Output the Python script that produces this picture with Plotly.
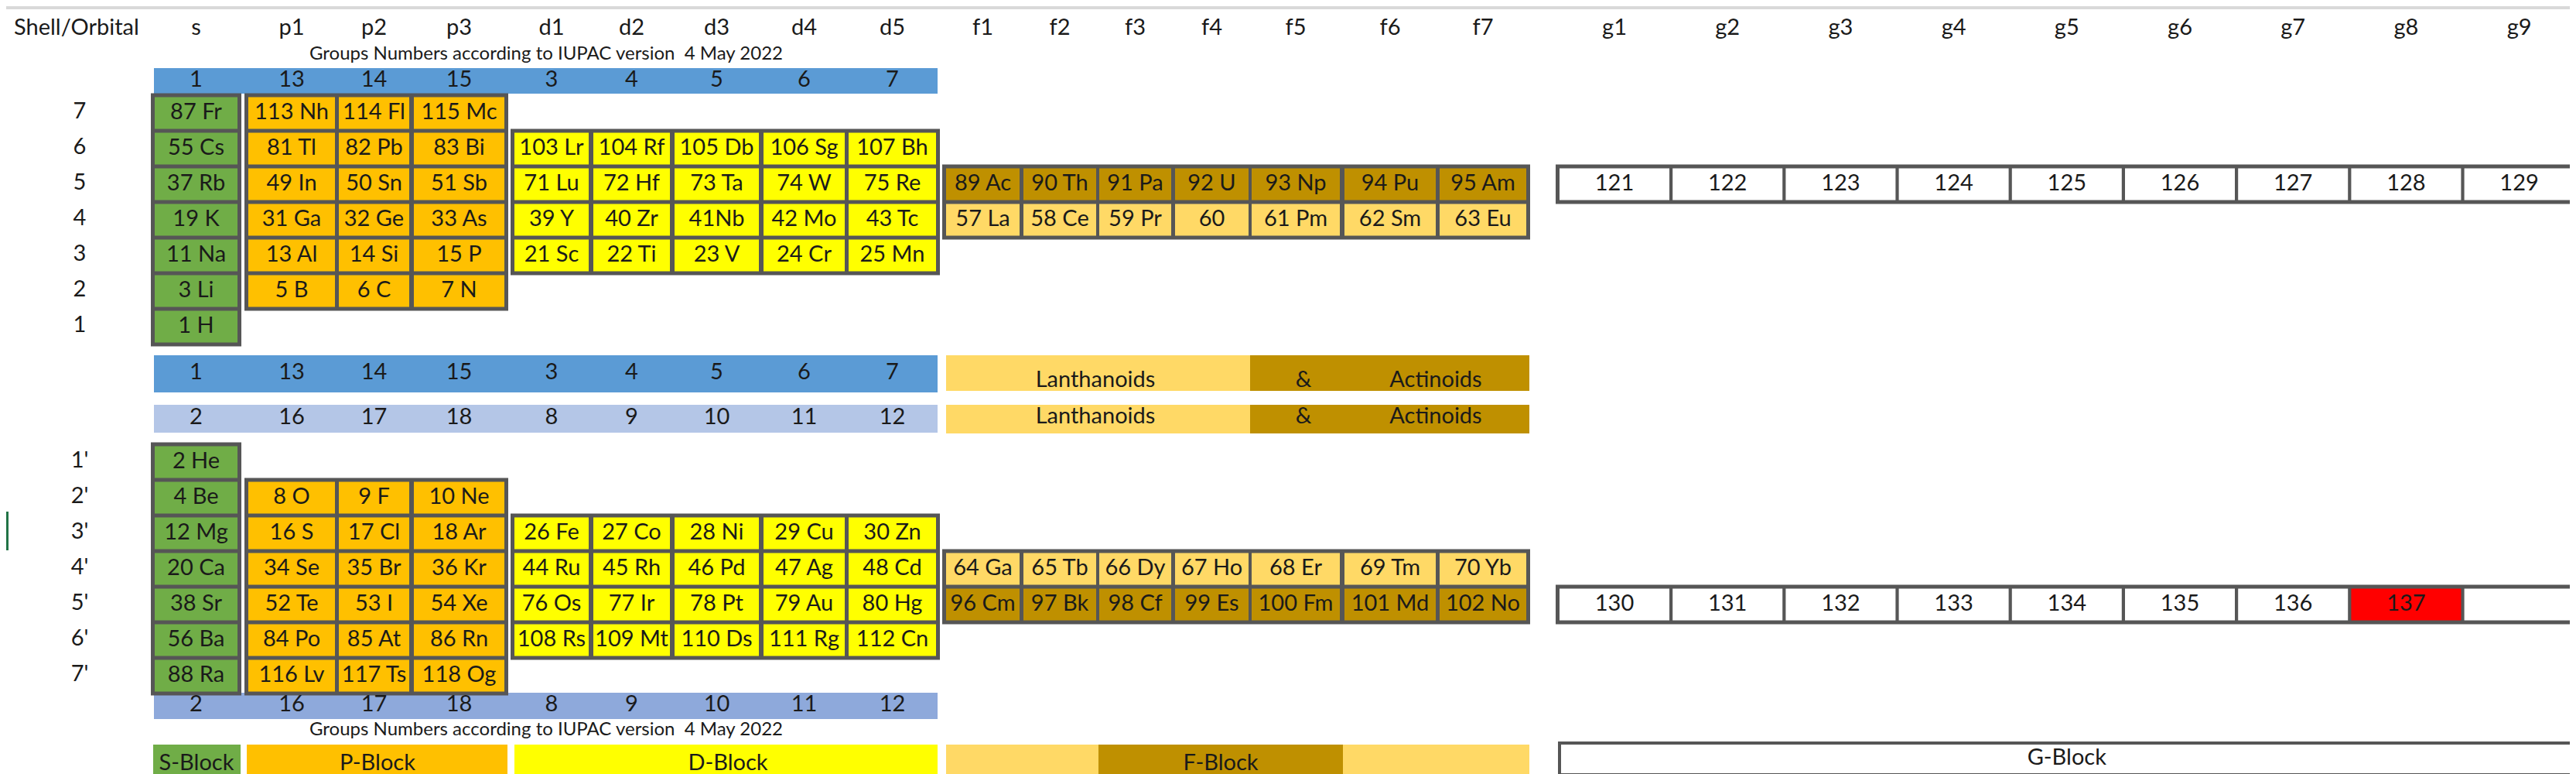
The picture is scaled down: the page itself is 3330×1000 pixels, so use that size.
import plotly.graph_objects as go

# headers
orbitals = ["s", "p1", "p2", "p3", "d1", "d2", "d3", "d4", "d5",
            "f1", "f2", "f3", "f4", "f5", "f6", "f7",
            "g1", "g2", "g3", "g4", "g5", "g6", "g7", "g8", "g9"]
shells_top = ["7", "6", "5", "4", "3", "2", "1"]
shells_bottom = ["1'", "2'", "3'", "4'", "5'", "6'", "7'"]
groups_top = ["1", "13", "14", "15", "3", "4", "5", "6", "7"]
groups_bottom = ["2", "16", "17", "18", "8", "9", "10", "11", "12"]
iupac_note = "Groups Numbers according to IUPAC version\u00a0 4 May 2022"
series_names = ["Lanthanoids", "&", "Actinoids"]
block_names = ["S-Block", "P-Block", "D-Block", "F-Block", "G-Block"]

# elements, upper half (shells 7 .. 1)
s_top = ["87 Fr", "55 Cs", "37 Rb", "19 K", "11 Na", "3 Li", "1 H"]
p_top = [["113 Nh", "114 Fl", "115 Mc"],
         ["81 Tl", "82 Pb", "83 Bi"],
         ["49 In", "50 Sn", "51 Sb"],
         ["31 Ga", "32 Ge", "33 As"],
         ["13 Al", "14 Si", "15 P"],
         ["5 B", "6 C", "7 N"]]
d_top = [["103 Lr", "104 Rf", "105 Db", "106 Sg", "107 Bh"],
         ["71 Lu", "72 Hf", "73 Ta", "74 W", "75 Re"],
         ["39 Y", "40 Zr", "41Nb", "42 Mo", "43 Tc"],
         ["21 Sc", "22 Ti", "23 V", "24 Cr", "25 Mn"]]
f_top = [["89 Ac", "90 Th", "91 Pa", "92 U", "93 Np", "94 Pu", "95 Am"],
         ["57 La", "58 Ce", "59 Pr", "60", "61 Pm", "62 Sm", "63 Eu"]]
g_top = ["121", "122", "123", "124", "125", "126", "127", "128", "129"]

# elements, lower half (shells 1' .. 7')
s_bottom = ["2 He", "4 Be", "12 Mg", "20 Ca", "38 Sr", "56 Ba", "88 Ra"]
p_bottom = [["8 O", "9 F", "10 Ne"],
            ["16 S", "17 Cl", "18 Ar"],
            ["34 Se", "35 Br", "36 Kr"],
            ["52 Te", "53 I", "54 Xe"],
            ["84 Po", "85 At", "86 Rn"],
            ["116 Lv", "117 Ts", "118 Og"]]
d_bottom = [["26 Fe", "27 Co", "28 Ni", "29 Cu", "30 Zn"],
            ["44 Ru", "45 Rh", "46 Pd", "47 Ag", "48 Cd"],
            ["76 Os", "77 Ir", "78 Pt", "79 Au", "80 Hg"],
            ["108 Rs", "109 Mt", "110 Ds", "111 Rg", "112 Cn"]]
f_bottom = [["64 Ga", "65 Tb", "66 Dy", "67 Ho", "68 Er", "69 Tm", "70 Yb"],
            ["96 Cm", "97 Bk", "98 Cf", "99 Es", "100 Fm", "101 Md", "102 No"]]
g_bottom = ["130", "131", "132", "133", "134", "135", "136", "137", ""]
highlighted = ["137"]

# styles
FONT = "Lato"
INK = "#1a1a1a"
EDGE = "#565656"
GREEN, ORANGE, YELLOW = "#70AD47", "#FFC000", "#FFFF00"
F_LIGHT, F_DARK = "#FFD966", "#BF9000"
BLUE, BLUE_LIGHT, BLUE_MID = "#5B9BD5", "#B4C6E7", "#8EA9DB"
RED = "#FF0000"

# layout of the sheet columns / rows (pixels)
col_left = [192, 313, 430, 527, 657, 759, 864, 979, 1089,
            1215, 1315, 1413, 1511, 1610, 1730, 1853] + [2008 + 146.2 * i for i in range(9)]
col_right = [299, 425, 521, 644, 753, 858, 973, 1084, 1202,
             1310, 1409, 1506, 1606, 1724, 1848, 1965] + [2150 + 146.2 * i for i in range(9)]
col_mid = [(a + b) / 2 for a, b in zip(col_left, col_right)]
row_y = {}
for i, sh in enumerate(shells_top):
    row_y[sh] = 138 + 46 * i
for i, sh in enumerate(shells_bottom):
    row_y[sh] = 589 + 46 * i
HALF = 20.5

fig = go.Figure()
texts = {"x": [], "y": [], "t": []}


def rect(x0, x1, y0, y1, fill, layer="below"):
    fig.add_shape(type="rect", xref="x", yref="y", x0=x0, x1=x1, y0=y0, y1=y1,
                  fillcolor=fill, line=dict(width=0), layer=layer)


def put(x, y, t):
    texts["x"].append(x)
    texts["y"].append(y)
    texts["t"].append(t)


def draw_block(rows, col0, shells, fills):
    ncol = max(len(r) for r in rows)
    c1 = col0 + ncol - 1
    rect(col_left[col0] - 5, col_right[c1] + 5,
         row_y[shells[0]] - HALF - 5, row_y[shells[-1]] + HALF + 5, EDGE)
    for labels, sh, fill in zip(rows, shells, fills):
        yc = row_y[sh]
        for j, lab in enumerate(labels):
            c = col0 + j
            rect(col_left[c], col_right[c], yc - HALF, yc + HALF,
                 RED if lab in highlighted else fill)
            if lab:
                put(col_mid[c], yc + 1, lab)


# excel window bits
rect(0, 3330, 0, 4, "#D9D9D9")
rect(0, 3, 653, 703, "#217346")

# headers
for c, name in enumerate(orbitals):
    put(col_mid[c], 30, name)
for sh in shells_top + shells_bottom:
    put(95, row_y[sh], sh)

# group number bars
for y0, y1, fill, labels in [(80, 113, BLUE, groups_top),
                             (451, 499, BLUE, groups_top),
                             (515, 551, BLUE_LIGHT, groups_bottom),
                             (887, 921, BLUE_MID, groups_bottom)]:
    rect(col_left[0] - 1, col_right[8] + 2, y0, y1, fill)
    for c, g in enumerate(labels):
        put(col_mid[c], (y0 + y1) / 2, g)

# lanthanoids & actinoids bars
for y0, y1, ty in [(451, 497, 485), (515, 552, 532)]:
    rect(col_left[9], 1608, y0, y1, F_LIGHT)
    rect(1608, col_right[15] + 4, y0, y1, F_DARK)
    for x, name in zip([1408, 1677, 1848], series_names):
        put(x, ty, name)

# upper half
draw_block([[e] for e in s_top], 0, shells_top, [GREEN] * 7)
draw_block(p_top, 1, shells_top[:6], [ORANGE] * 6)
draw_block(d_top, 4, shells_top[1:5], [YELLOW] * 4)
draw_block(f_top, 9, ["5", "4"], [F_DARK, F_LIGHT])
draw_block([g_top], 16, ["5"], ["#FFFFFF"])

# lower half
draw_block([[e] for e in s_bottom], 0, shells_bottom, [GREEN] * 7)
draw_block(p_bottom, 1, shells_bottom[1:], [ORANGE] * 6)
draw_block(d_bottom, 4, shells_bottom[2:6], [YELLOW] * 4)
draw_block(f_bottom, 9, ["4'", "5'"], [F_LIGHT, F_DARK])
draw_block([g_bottom], 16, ["5'"], ["#FFFFFF"])

# block legend bar
rect(col_left[0] - 2, col_right[0] + 4, 954, 996, GREEN)
rect(col_left[1] - 2, col_right[3] + 4, 954, 996, ORANGE)
rect(col_left[4], col_right[8] + 2, 954, 996, YELLOW)
rect(col_left[9], 1412, 954, 996, F_LIGHT)
rect(1412, 1728, 954, 996, F_DARK)
rect(1728, col_right[15] + 4, 954, 996, F_LIGHT)
rect(col_left[16] - 2, col_right[24] + 5, 950, 995, EDGE)
rect(col_left[16] + 2, col_right[24] + 1, 954, 991, "#FFFFFF")
for x, name in zip([246, 480, 933, 1570], block_names[:4]):
    put(x, 980, name)
put((col_left[16] + col_right[24]) / 2, 973, block_names[4])

fig.add_trace(go.Scatter(x=texts["x"], y=texts["y"], text=texts["t"], mode="text",
                         textfont=dict(family=FONT, size=29, color=INK),
                         hoverinfo="skip", showlegend=False))
fig.add_trace(go.Scatter(x=[10], y=[30], text=["Shell/Orbital"], mode="text",
                         textposition="middle right",
                         textfont=dict(family=FONT, size=29, color=INK),
                         hoverinfo="skip", showlegend=False))
fig.add_trace(go.Scatter(x=[698, 698], y=[63, 936], text=[iupac_note, iupac_note],
                         mode="text", textfont=dict(family=FONT, size=24, color=INK),
                         hoverinfo="skip", showlegend=False))

fig.update_xaxes(range=[0, 3330], visible=False, fixedrange=True)
fig.update_yaxes(range=[1000, 0], visible=False, fixedrange=True)
fig.update_layout(width=3330, height=1000, margin=dict(l=0, r=0, t=0, b=0),
                  plot_bgcolor="white", paper_bgcolor="white", showlegend=False)

fig.write_html("out.html")
